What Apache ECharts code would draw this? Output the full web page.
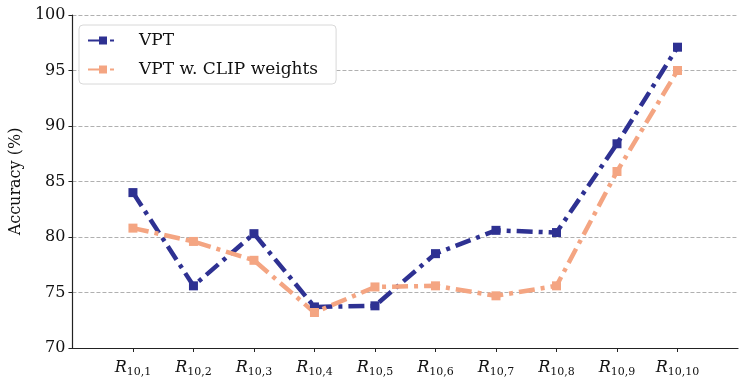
<!DOCTYPE html>
<html>
<head>
<meta charset="utf-8">
<script src="https://cdn.jsdelivr.net/npm/echarts@6/dist/echarts.min.js"></script>
<style>
  html, body { margin: 0; padding: 0; background: #fff; }
  #chart { width: 747px; height: 384px; }
</style>
</head>
<body>
<div id="chart"></div>
<script>
// ten R_{10,k} settings, padded with empty slots at both ends
var categories = ['', '10,1', '10,2', '10,3', '10,4', '10,5', '10,6', '10,7', '10,8', '10,9', '10,10', ''];
var vpt = [null, 84.0, 75.6, 80.3, 73.7, 73.8, 78.5, 80.6, 80.4, 88.4, 97.1, null];
var vptClip = [null, 80.8, 79.6, 77.9, 73.2, 75.5, 75.6, 74.7, 75.6, 85.9, 95.0, null];
var yTicks = [70, 75, 80, 85, 90, 95, 100];

var chart = echarts.init(document.getElementById('chart'), null, { renderer: 'canvas' });
var font = 'DejaVu Serif';
var dashDot = [16, 6, 4, 6];

function lineSeries(name, data, color) {
  return {
    name: name,
    type: 'line',
    data: data,
    symbol: 'rect',
    symbolSize: 9,
    connectNulls: false,
    lineStyle: { color: color, width: 4.5, type: dashDot, cap: 'butt' },
    itemStyle: { color: color },
    animation: false
  };
}

var option = {
  textStyle: { fontFamily: font },
  grid: { left: 70, right: 9, top: 15, bottom: 36 },
  legend: {
    left: 79, top: 25,
    orient: 'vertical',
    backgroundColor: '#fff',
    borderColor: '#d8d8d8',
    borderWidth: 1,
    borderRadius: 4,
    padding: [7, 18, 6, 8],
    itemGap: 12,
    itemWidth: 30,
    itemHeight: 10,
    textStyle: { fontFamily: font, fontSize: 17, color: '#111', padding: [0, 0, 0, 16] },
    data: ['VPT', 'VPT w. CLIP weights']
  },
  xAxis: {
    type: 'category',
    data: categories,
    boundaryGap: false,
    axisLine: { lineStyle: { color: '#222', width: 1.2 } },
    axisTick: {
      length: 4, inside: false,
      interval: function (i) { return i > 0 && i < categories.length - 1; },
      lineStyle: { color: '#222' }
    },
    axisLabel: {
      interval: function (i) { return i > 0 && i < categories.length - 1; },
      margin: 10,
      formatter: function (v) { return v ? '{r|R}{s|' + v + '}' : ''; },
      rich: {
        r: { fontFamily: font, fontStyle: 'italic', fontSize: 16, color: '#111' },
        s: { fontFamily: font, fontSize: 11, color: '#111', padding: [9, 0, 0, 0] }
      }
    },
    splitLine: { show: false }
  },
  yAxis: {
    type: 'value',
    min: yTicks[0], max: yTicks[yTicks.length - 1], interval: 5,
    name: 'Accuracy (%)',
    nameLocation: 'middle',
    nameGap: 45,
    nameTextStyle: { fontFamily: font, fontSize: 16, color: '#111' },
    axisLine: { show: true, lineStyle: { color: '#222', width: 1.2 } },
    axisTick: { show: true, length: 4, lineStyle: { color: '#222' } },
    axisLabel: { fontFamily: font, fontSize: 16, color: '#111', margin: 7 },
    splitLine: { lineStyle: { color: '#b0b0b0', type: [4, 2], width: 1 } }
  },
  series: [
    lineSeries('VPT', vpt, '#2e3192'),
    lineSeries('VPT w. CLIP weights', vptClip, '#f4a582')
  ]
};
chart.setOption(option);
</script>
</body>
</html>
